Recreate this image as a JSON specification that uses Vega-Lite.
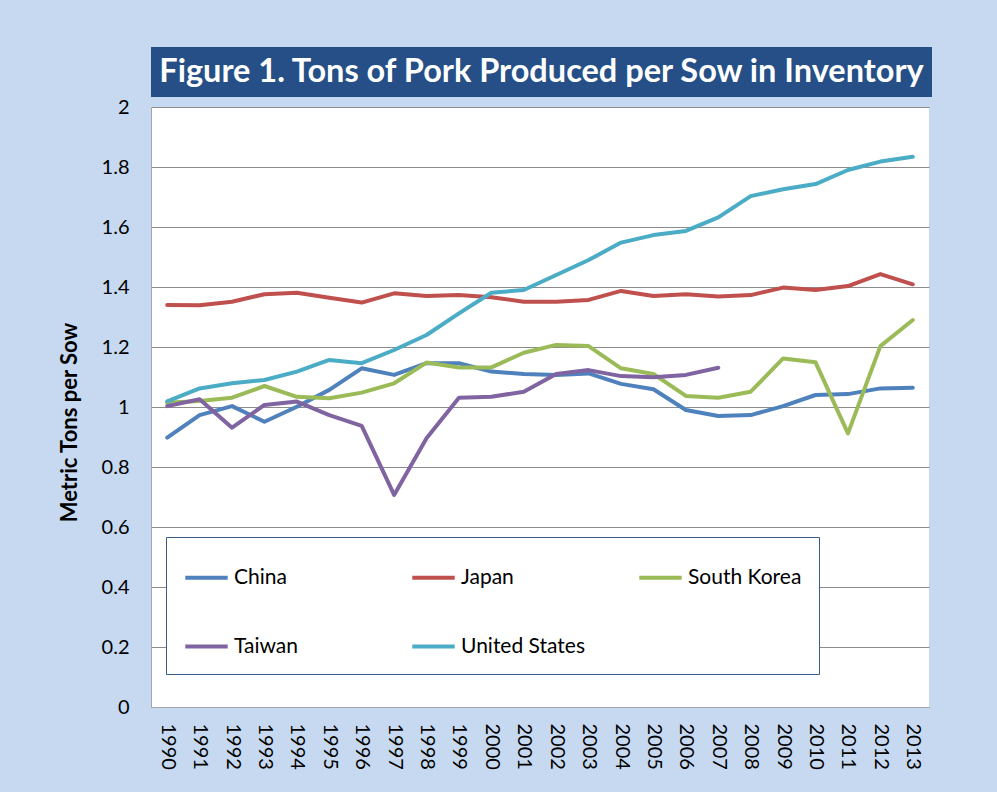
{
  "$schema": "https://vega.github.io/schema/vega-lite/v6.json",
  "background": "#C6D9F0",
  "padding": {"left": 58, "top": 47, "right": 69, "bottom": 22},
  "bounds": "flush",
  "spacing": 10,
  "config": {"font": "Lato", "view": {"stroke": null}},
  "vconcat": [
    {
      "width": 781,
      "height": 50,
      "view": {"fill": "#254F86", "stroke": null},
      "data": {"values": [{"title": "Figure 1. Tons of Pork Produced per Sow in Inventory"}]},
      "mark": {"type": "text", "font": "Lato", "fontWeight": "bold", "fontSize": 32.5, "color": "#FFFFFF", "baseline": "middle", "align": "center"},
      "encoding": {"text": {"field": "title"}}
    },
    {
      "width": 778,
      "height": 600,
      "view": {"fill": "#FFFFFF", "stroke": null},
      "data": {"values": [
        {"year": "1990", "China": 0.898, "Japan": 1.34, "South Korea": 1.014, "Taiwan": 1.003, "United States": 1.019},
        {"year": "1991", "China": 0.973, "Japan": 1.339, "South Korea": 1.02, "Taiwan": 1.026, "United States": 1.062},
        {"year": "1992", "China": 1.003, "Japan": 1.351, "South Korea": 1.031, "Taiwan": 0.931, "United States": 1.079},
        {"year": "1993", "China": 0.951, "Japan": 1.376, "South Korea": 1.07, "Taiwan": 1.007, "United States": 1.09},
        {"year": "1994", "China": 1.001, "Japan": 1.381, "South Korea": 1.034, "Taiwan": 1.018, "United States": 1.118},
        {"year": "1995", "China": 1.057, "Japan": 1.364, "South Korea": 1.029, "Taiwan": 0.973, "United States": 1.157},
        {"year": "1996", "China": 1.129, "Japan": 1.348, "South Korea": 1.048, "Taiwan": 0.937, "United States": 1.146},
        {"year": "1997", "China": 1.107, "Japan": 1.379, "South Korea": 1.079, "Taiwan": 0.707, "United States": 1.19},
        {"year": "1998", "China": 1.146, "Japan": 1.37, "South Korea": 1.148, "Taiwan": 0.896, "United States": 1.24},
        {"year": "1999", "China": 1.146, "Japan": 1.373, "South Korea": 1.132, "Taiwan": 1.031, "United States": 1.312},
        {"year": "2000", "China": 1.118, "Japan": 1.366, "South Korea": 1.132, "Taiwan": 1.034, "United States": 1.381},
        {"year": "2001", "China": 1.11, "Japan": 1.351, "South Korea": 1.181, "Taiwan": 1.051, "United States": 1.39},
        {"year": "2002", "China": 1.107, "Japan": 1.351, "South Korea": 1.207, "Taiwan": 1.11, "United States": 1.44},
        {"year": "2003", "China": 1.112, "Japan": 1.357, "South Korea": 1.203, "Taiwan": 1.123, "United States": 1.49},
        {"year": "2004", "China": 1.077, "Japan": 1.387, "South Korea": 1.129, "Taiwan": 1.103, "United States": 1.548},
        {"year": "2005", "China": 1.059, "Japan": 1.37, "South Korea": 1.11, "Taiwan": 1.099, "United States": 1.573},
        {"year": "2006", "China": 0.99, "Japan": 1.376, "South Korea": 1.037, "Taiwan": 1.107, "United States": 1.587},
        {"year": "2007", "China": 0.97, "Japan": 1.368, "South Korea": 1.031, "Taiwan": 1.131, "United States": 1.632},
        {"year": "2008", "China": 0.973, "Japan": 1.373, "South Korea": 1.051, "United States": 1.703},
        {"year": "2009", "China": 1.003, "Japan": 1.398, "South Korea": 1.162, "United States": 1.726},
        {"year": "2010", "China": 1.04, "Japan": 1.39, "South Korea": 1.149, "United States": 1.743},
        {"year": "2011", "China": 1.043, "Japan": 1.403, "South Korea": 0.912, "United States": 1.79},
        {"year": "2012", "China": 1.062, "Japan": 1.443, "South Korea": 1.203, "United States": 1.818},
        {"year": "2013", "China": 1.064, "Japan": 1.409, "South Korea": 1.29, "United States": 1.834}
      ]},
      "transform": [
        {"fold": ["China", "Japan", "South Korea", "Taiwan", "United States"], "as": ["country", "value"]},
        {"filter": "isValid(datum.value)"}
      ],
      "mark": {"type": "line", "strokeWidth": 4, "strokeCap": "round", "strokeJoin": "round"},
      "encoding": {
        "x": {
          "field": "year", "type": "ordinal",
          "scale": {"type": "point", "padding": 0.5},
          "axis": {"title": null, "labelAngle": 90, "labelFontSize": 20, "labelColor": "#000000", "labelFont": "Lato", "ticks": false, "labelPadding": 16, "domainColor": "#A6A6A6", "domainWidth": 1, "grid": false}
        },
        "y": {
          "field": "value", "type": "quantitative",
          "scale": {"domain": [0, 2], "nice": false, "zero": true},
          "axis": {"title": "Metric Tons per Sow", "titleFontSize": 22, "titleFont": "Lato", "titleFontWeight": "bold", "titleColor": "#000000", "titleX": -82, "titleY": 315, "titleBaseline": "middle", "titleAngle": -90, "titleAlign": "center",
            "values": [0, 0.2, 0.4, 0.6, 0.8, 1, 1.2, 1.4, 1.6, 1.8, 2], "format": "~g",
            "labelFontSize": 20, "labelColor": "#000000", "labelFont": "Lato", "ticks": false, "labelPadding": 22,
            "domain": true, "domainColor": "#A6A6A6", "grid": true, "gridColor": "#8C8C8C", "gridWidth": 1}
        },
        "color": {
          "field": "country", "type": "nominal",
          "scale": {"domain": ["China", "Japan", "South Korea", "Taiwan", "United States"], "range": ["#4F81BD", "#C0504D", "#9BBB59", "#8064A2", "#4BACC6"]},
          "legend": {"title": null, "orient": "none", "legendX": 15, "legendY": 490, "direction": "horizontal", "columns": 3, "gridAlign": "all",
            "symbolType": "stroke", "symbolStrokeWidth": 4, "symbolSize": 1800, "labelFontSize": 21, "labelColor": "#000000", "labelFont": "Lato", "labelOffset": 4,
            "strokeColor": "#385D8A", "fillColor": "#FFFFFF", "padding": 17, "rowPadding": 35, "columnPadding": 46, "labelLimit": 300}
        }
      }
    }
  ]
}
